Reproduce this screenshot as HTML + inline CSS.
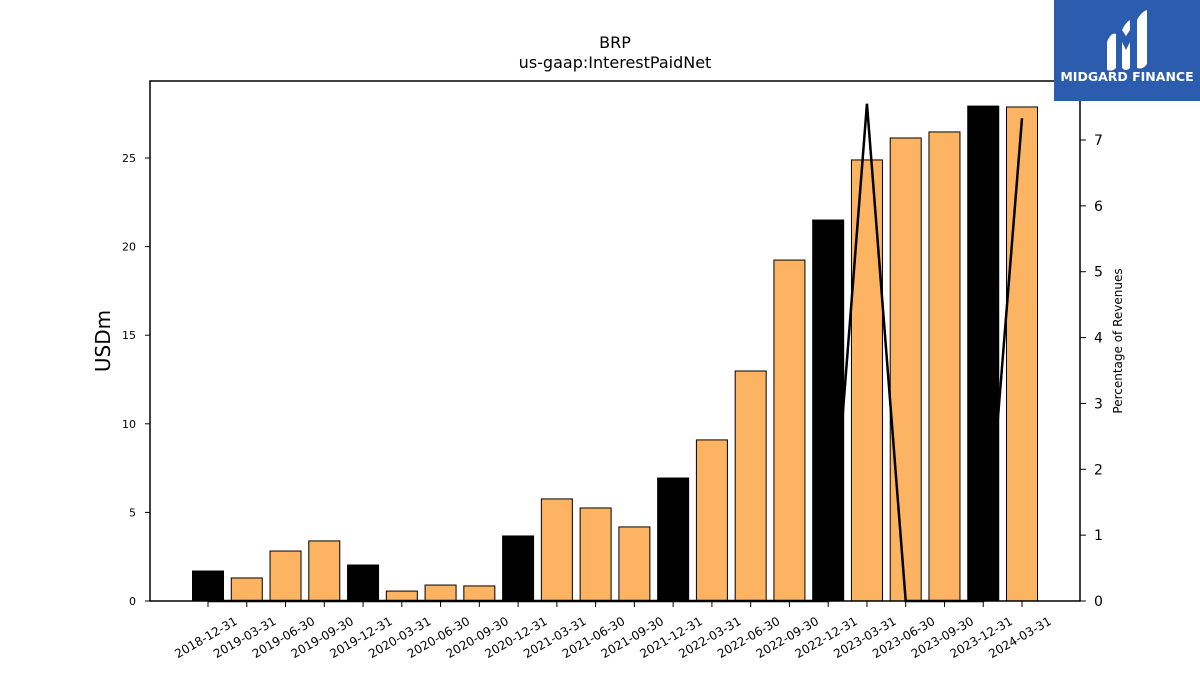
<!DOCTYPE html>
<html><head><meta charset="utf-8"><style>
body{margin:0;background:#fff;}
svg text{font-family:"DejaVu Sans","Liberation Sans",sans-serif;}
</style></head><body>
<svg id="chart" width="1200" height="675" xmlns="http://www.w3.org/2000/svg">
<text x="615" y="48" text-anchor="middle" font-size="16">BRP</text>
<text x="615" y="68" text-anchor="middle" font-size="16">us-gaap:InterestPaidNet</text>
<g id="bars"></g>
<g id="line"></g>
<rect x="150" y="81" width="930" height="520" fill="none" stroke="#000" stroke-width="1.5"/>
<g id="yl"></g>
<g id="yr"></g>
<g id="xa"></g>
<text transform="translate(110,341) rotate(-90)" text-anchor="middle" font-size="20">USDm</text>
<text transform="translate(1122,341) rotate(-90)" text-anchor="middle" font-size="12">Percentage of Revenues</text>
<g>
<rect x="1054" y="0" width="146" height="101" fill="#2b5cad"/>
<path d="M1107,42 q4,-10 9,-8 v34 q-4,4 -9,2 z" fill="#fff"/>
<path d="M1122,30 q4,-8 8,-10 v10 l-4,6 z M1122,42 l4,8 4,-8 v26 q-4,4 -8,0 z" fill="#fff"/>
<path d="M1137,20 q4,-8 10,-10 v54 q-4,6 -10,4 z" fill="#fff"/>
<text x="1127" y="81" text-anchor="middle" font-size="12.5" font-weight="bold" fill="#fff">MIDGARD FINANCE</text>
</g>
</svg>
<script>
const categories=["2018-12-31","2019-03-31","2019-06-30","2019-09-30","2019-12-31","2020-03-31","2020-06-30","2020-09-30","2020-12-31","2021-03-31","2021-06-30","2021-09-30","2021-12-31","2022-03-31","2022-06-30","2022-09-30","2022-12-31","2023-03-31","2023-06-30","2023-09-30","2023-12-31","2024-03-31"];
const values=[1.69,1.30,2.82,3.39,2.03,0.56,0.90,0.85,3.67,5.76,5.25,4.18,6.94,9.09,12.98,19.24,21.50,24.89,26.13,26.47,27.93,27.88];
const pctRevenue=[0,0,0,0,0,0,0,0,0,0,0,0,0,0,0,0,0,7.55,0,0,0,7.33];
const leftTicks=[0,5,10,15,20,25];
const rightTicks=[0,1,2,3,4,5,6,7];
const NS="http://www.w3.org/2000/svg";
function mk(t,a,p){const e=document.createElementNS(NS,t);for(const k in a)e.setAttribute(k,a[k]);p.appendChild(e);return e;}
const x=i=>208+i*(1022-208)/21;
const yL=v=>601-v*(443/25);
const yR=v=>601-v*(461/7);
const bars=document.getElementById('bars');
categories.forEach((c,i)=>{
 const q4=c.endsWith('12-31');
 const r=mk('rect',{x:x(i)-15.5,y:yL(values[i]),width:31,height:601-yL(values[i]),fill:q4?'#000':'#fdb462',stroke:'#000','stroke-width':1},bars);
 
 
});
const lg=document.getElementById('line');
const pl=mk('polyline',{points:pctRevenue.map((v,i)=>x(i)+','+yR(v)).join(' '),fill:'none',stroke:'#000','stroke-width':2.5},lg);


const yl=document.getElementById('yl');
leftTicks.forEach(t=>{
 const l=mk('line',{x1:145,x2:150,y1:yL(t),y2:yL(t),stroke:'#000'},yl);
 
 
 const tx=mk('text',{x:136,y:yL(t)+4,'text-anchor':'end','font-size':11},yl);tx.textContent=t;
 
 
});
const yr=document.getElementById('yr');
rightTicks.forEach(t=>{
 const l=mk('line',{x1:1080,x2:1086,y1:yR(t),y2:yR(t),stroke:'#000'},yr);
 
 
 const tx=mk('text',{x:1094,y:yR(t)+5,'font-size':14},yr);tx.textContent=t;
 
 
});
const xa=document.getElementById('xa');
categories.forEach((c,i)=>{
 const l=mk('line',{x1:x(i),x2:x(i),y1:601,y2:607,stroke:'#000'},xa);
 
 
 const tx=mk('text',{transform:`translate(${x(i)},641) rotate(-30)`,'text-anchor':'middle','font-size':12},xa);tx.textContent=c;
 
 
});
</script>
</body></html>
